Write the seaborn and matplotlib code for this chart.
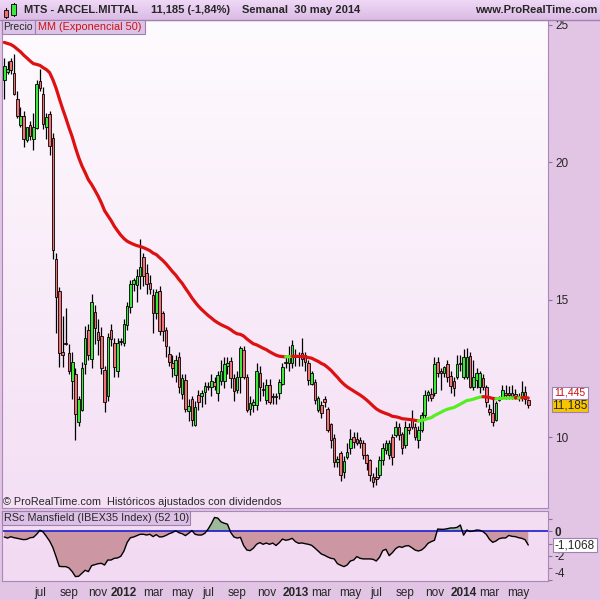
import numpy as np
import pandas as pd
import matplotlib
matplotlib.use("Agg")
import matplotlib.pyplot as plt
import matplotlib.patches as mpatches
from matplotlib.colors import LinearSegmentedColormap
import seaborn as sns

sns.set_style("white")
plt.rcParams['font.family'] = ['Liberation Sans', 'DejaVu Sans']

# weekly OHLC, ARCEL.MITTAL, apr 2011 - may 2014
open_ = [23.0, 23.3, 23.7, 23.25, 22.3, 21.35, 21.7, 20.8, 21.35, 20.85,
         21.25, 22.95, 22.5, 21.3, 21.75, 20.9, 16.5, 15.3, 13.1, 13.42,
         13.05, 12.05, 12.3, 10.55, 11.0, 12.66, 13.9, 12.86, 14.56, 13.81,
         13.68, 12.46, 11.51, 13.9, 13.41, 12.39, 13.45, 13.41, 14.08, 14.75,
         15.57, 15.54, 15.86, 16.54, 15.96, 15.6, 15.17, 14.5, 15.33, 14.5,
         13.9, 13.02, 12.68, 12.26, 12.93, 11.57, 12.08, 10.96, 11.38, 10.44,
         11.53, 11.5, 11.65, 11.85, 11.83, 12.02, 11.59, 12.05, 12.04, 12.6,
         12.77, 12.14, 11.71, 12.2, 13.17, 12.17, 11.04, 11.17, 11.17, 12.34,
         11.76, 11.35, 11.9, 11.5, 11.47, 11.61, 11.95, 12.68, 12.68, 12.68,
         12.99, 12.97, 13.05, 12.99, 12.68, 11.95, 12.02, 10.98, 11.17, 11.38,
         11.04, 10.46, 9.98, 9.1, 9.41, 8.74, 9.29, 9.59, 10.01, 9.92,
         9.88, 9.77, 9.35, 9.16, 8.56, 8.55, 8.62, 9.16, 9.53, 9.35,
         10.01, 10.07, 10.37, 10.13, 9.71, 10.38, 10.62, 10.38, 9.89, 10.25,
         10.8, 11.53, 11.57, 11.59, 12.74, 12.42, 12.32, 12.66, 12.22, 12.04,
         12.2, 12.66, 12.17, 12.2, 12.95, 11.83, 12.08, 11.83, 12.14, 11.83,
         11.01, 10.86, 10.62, 11.35, 11.47, 11.6, 11.62, 11.6, 11.58, 11.5,
         11.47, 11.65, 11.35]
high = [23.8, 23.7, 23.8, 23.95, 22.6, 22.0, 21.85, 21.3, 21.5, 21.8,
        23.0, 23.4, 22.75, 21.8, 21.85, 21.05, 16.7, 15.45, 14.4, 14.7,
        13.4, 13.1, 12.5, 11.5, 12.75, 14.04, 14.1, 15.2, 14.8, 14.3,
        14.0, 12.6, 13.8, 14.1, 13.6, 13.6, 13.6, 14.3, 14.9, 15.7,
        15.8, 16.1, 17.2, 16.7, 16.3, 15.9, 15.4, 15.4, 15.5, 14.6,
        14.0, 13.3, 13.0, 13.0, 13.1, 12.3, 12.3, 11.4, 11.5, 11.3,
        11.7, 11.7, 12.0, 12.0, 12.3, 12.2, 12.4, 12.8, 12.9, 12.9,
        12.9, 12.3, 12.4, 13.3, 13.3, 12.3, 11.5, 11.4, 12.7, 12.6,
        12.0, 12.1, 12.1, 11.6, 11.6, 12.1, 12.7, 12.9, 13.3, 13.55,
        13.2, 13.1, 13.6, 13.1, 12.8, 12.4, 12.1, 11.5, 11.3, 11.5,
        11.1, 10.5, 10.1, 9.3, 9.5, 9.3, 9.8, 10.3, 10.2, 10.2,
        10.0, 9.9, 9.4, 9.2, 8.7, 8.9, 9.3, 9.8, 9.9, 9.9,
        10.1, 10.6, 10.5, 10.2, 10.6, 10.5, 11.0, 10.5, 10.4, 10.9,
        11.7, 11.7, 11.8, 12.9, 12.9, 12.5, 12.6, 12.8, 12.4, 12.2,
        13.0, 13.0, 13.2, 13.25, 13.1, 12.8, 12.5, 12.4, 12.3, 11.9,
        11.2, 11.4, 11.3, 11.5, 11.9, 11.9, 11.85, 11.9, 11.75, 11.6,
        12.05, 11.85, 11.4]
low = [22.3, 23.2, 23.2, 22.45, 21.6, 21.3, 20.55, 20.75, 20.8, 20.45,
       21.2, 22.6, 21.2, 20.85, 20.25, 16.5, 13.8, 12.55, 12.55, 13.35,
       12.3, 11.4, 9.9, 10.4, 10.95, 12.3, 12.8, 12.5, 13.4, 13.0,
       12.3, 10.9, 11.3, 13.3, 12.2, 12.2, 13.35, 13.3, 13.9, 14.5,
       15.3, 14.9, 15.4, 15.5, 15.2, 15.2, 13.8, 14.3, 13.7, 13.5,
       12.9, 12.6, 12.2, 12.0, 11.6, 11.4, 10.9, 10.6, 10.4, 10.4,
       11.0, 11.1, 11.2, 11.7, 11.5, 11.7, 11.3, 11.9, 11.8, 12.3,
       11.8, 11.3, 11.6, 11.6, 12.1, 10.9, 10.8, 10.9, 11.0, 11.3,
       11.5, 11.2, 11.2, 11.2, 11.2, 11.4, 11.9, 12.5, 12.4, 12.5,
       12.6, 12.6, 12.6, 12.4, 11.9, 11.9, 11.2, 10.9, 10.7, 11.1,
       10.2, 9.6, 8.9, 8.9, 8.4, 8.5, 9.2, 9.4, 9.6, 9.7,
       9.6, 9.2, 8.8, 8.4, 8.2, 8.25, 8.5, 9.0, 9.4, 9.2,
       9.0, 10.0, 9.9, 9.4, 9.6, 10.1, 10.3, 9.9, 9.6, 10.2,
       10.7, 11.3, 11.3, 11.5, 12.2, 11.7, 12.2, 12.0, 11.6, 11.5,
       12.1, 12.4, 12.1, 12.1, 11.8, 11.7, 11.8, 11.6, 11.7, 11.1,
       10.8, 10.4, 10.6, 11.3, 11.4, 11.4, 11.4, 11.4, 11.4, 11.3,
       11.3, 11.2, 11.05]
close = [23.5, 23.4, 23.35, 22.5, 21.7, 21.7, 20.85, 21.28, 20.95, 21.3,
         22.85, 22.7, 21.4, 21.65, 20.6, 16.8, 15.1, 13.05, 13.0, 13.38,
         12.4, 12.75, 10.85, 11.4, 12.5, 13.62, 12.99, 14.9, 13.96, 13.53,
         12.53, 11.26, 13.65, 13.56, 12.56, 13.41, 13.47, 14.1, 14.77, 15.57,
         15.72, 15.86, 16.2, 15.86, 15.56, 15.4, 14.5, 15.29, 13.87, 13.87,
         13.31, 12.74, 12.5, 12.8, 11.83, 12.14, 11.02, 11.14, 10.62, 11.11,
         11.26, 11.6, 11.86, 11.82, 12.04, 11.86, 12.27, 12.42, 12.65, 12.68,
         12.14, 11.68, 12.2, 13.23, 12.2, 10.98, 11.25, 11.29, 12.42, 11.83,
         11.72, 11.9, 11.29, 11.45, 11.5, 11.99, 12.56, 12.72, 12.99, 13.35,
         12.93, 12.93, 12.86, 12.74, 12.07, 12.32, 11.35, 11.41, 10.86, 11.26,
         10.25, 9.89, 9.1, 9.19, 8.62, 9.13, 9.47, 9.92, 9.83, 9.8,
         9.78, 9.35, 9.07, 8.62, 8.37, 8.48, 9.16, 9.59, 9.77, 9.77,
         9.28, 10.37, 10.07, 9.59, 10.38, 10.26, 10.38, 10.01, 10.25, 10.8,
         11.53, 11.65, 11.44, 12.66, 12.32, 12.32, 12.54, 12.17, 11.87, 11.77,
         12.66, 12.7, 12.9, 12.9, 11.83, 12.17, 12.32, 12.34, 11.83, 11.29,
         10.93, 10.56, 11.23, 11.41, 11.71, 11.55, 11.55, 11.5, 11.48, 11.42,
         11.65, 11.4, 11.185]
ma_seed = 24.4  # EMA value before the first bar

# RSc Mansfield vs IBEX35
rsc = [-0.45, -0.54, -0.43, -0.51, -0.56, -0.62, -0.67, -0.64, -0.51, -0.48,
       -0.23, 0.10, -0.04, -0.40, -0.78, -1.30, -2.06, -2.86, -2.88, -2.88,
       -2.99, -3.29, -3.70, -3.67, -3.43, -3.18, -3.29, -2.80, -2.72, -2.64,
       -2.61, -2.75, -2.34, -2.34, -2.20, -2.17, -2.04, -1.60, -0.89, -0.51,
       -0.45, -0.34, -0.23, -0.23, -0.29, -0.23, -0.42, -0.26, -0.45, -0.43,
       -0.32, -0.18, -0.08, 0.06, -0.10, -0.18, -0.34, -0.15, 0.08, -0.23,
       -0.29, -0.29, -0.15, 0.19, 0.63, 1.15, 1.10, 0.79, 0.68, 0.60,
       -0.08, -0.45, -0.54, -0.48, -1.15, -1.52, -1.57, -1.37, -1.05, -0.91,
       -1.05, -0.95, -1.05, -0.95, -1.15, -0.92, -0.62, -0.72, -0.67, -0.56,
       -0.83, -0.97, -0.94, -1.00, -1.05, -1.13, -1.35, -1.60, -1.84, -1.95,
       -2.09, -2.20, -2.25, -2.64, -2.77, -2.88, -2.75, -2.42, -2.34, -2.06,
       -2.20, -2.25, -2.25, -2.25, -2.28, -2.42, -2.12, -1.57, -1.46, -1.98,
       -1.73, -1.41, -1.24, -1.30, -1.19, -1.16, -1.33, -1.52, -1.60, -1.52,
       -1.30, -0.97, -0.83, -0.72, 0.20, 0.18, 0.18, 0.23, 0.29, 0.29,
       0.34, 0.53, -0.30, 0.12, 0.00, 0.04, 0.12, 0.10, -0.01, -0.23,
       -0.64, -0.89, -0.78, -0.59, -0.53, -0.53, -0.32, -0.40, -0.42, -0.51,
       -0.56, -0.67, -1.11]

price_ticks = [10, 15, 20, 25]
tick_months = ["2011-07", "2011-09", "2011-11", "2012-01", "2012-03", "2012-05",
               "2012-07", "2012-09", "2012-11", "2013-01", "2013-03", "2013-05",
               "2013-07", "2013-09", "2013-11", "2014-01", "2014-03", "2014-05"]
tick_labels = ["jul", "sep", "nov", "2012", "mar", "may", "jul", "sep", "nov",
               "2013", "mar", "may", "jul", "sep", "nov", "2014", "mar", "may"]

o = np.array(open_)
h = np.array(high)
l = np.array(low)
c = np.array(close)
rs = np.array(rsc)
n = len(c)
idx = np.arange(n)
mondays = pd.date_range("2011-04-18", periods=n, freq="W-MON")
ema = pd.Series([ma_seed] + close).ewm(span=50, adjust=False).mean().to_numpy()[1:]

W, H = 600, 600
fig = plt.figure(figsize=(6, 6), dpi=100)
fig.patch.set_facecolor("#e2c4e4")


def px_box(x0, y0, x1, y1):
    return [x0 / W, 1 - y1 / H, (x1 - x0) / W, (y1 - y0) / H]


def vgrad(ax, top, bot, ext):
    cm = LinearSegmentedColormap.from_list("g", [top, bot])
    ax.imshow(np.linspace(0, 1, 256).reshape(-1, 1), cmap=cm, aspect="auto",
              extent=ext, zorder=0, origin="upper")


def box(x0, y0, x1, y1, fc, ec="#a080b0", lw=0.8):
    fig.patches.append(mpatches.Rectangle((x0 / W, 1 - y1 / H), (x1 - x0) / W, (y1 - y0) / H,
                                          transform=fig.transFigure, facecolor=fc,
                                          edgecolor=ec, lw=lw, zorder=5))


def ftext(x, y, s, **kw):
    fig.text(x / W, 1 - y / H, s, zorder=6, va="center", **kw)


xlim = (-0.71, 168.1)
border = "#a888b8"

# title bar
axt = fig.add_axes(px_box(0, 0, 600, 19))
vgrad(axt, "#efd8f6", "#dcbce6", [0, 1, 0, 1])
axt.set_xlim(0, 1)
axt.set_ylim(0, 1)
axt.axis("off")
fig.lines.append(plt.Line2D([0, 1], [1 - 19.5 / H] * 2, transform=fig.transFigure,
                            color="#a080b0", lw=1))
# candle icon
fig.lines.append(plt.Line2D([5.7 / W] * 2, [1 - 18 / H, 1 - 8 / H], transform=fig.transFigure, color="black", lw=0.8, zorder=5))
fig.lines.append(plt.Line2D([13.5 / W] * 2, [1 - 16 / H, 1 - 2.5 / H], transform=fig.transFigure, color="black", lw=0.8, zorder=5))
box(3.5, 10.5, 8, 16.5, "#f07070", ec="black", lw=0.6)
box(11.3, 4, 15.8, 15, "#3de83d", ec="black", lw=0.6)
ftext(24, 10, "MTS - ARCEL.MITTAL", fontsize=8, fontweight="bold")
ftext(151, 10, "11,185 (-1,84%)", fontsize=8, fontweight="bold")
ftext(242, 10, "Semanal  30 may 2014", fontsize=8, fontweight="bold")
ftext(597, 10, "www.ProRealTime.com", fontsize=8, fontweight="bold", ha="right")

# main price panel
ax = fig.add_axes(px_box(2, 20, 548, 508))
ylim = (7.42, 25.18)
vgrad(ax, "#fefbfe", "#f4dff4", [xlim[0], xlim[1], ylim[0], ylim[1]])

up = c >= o
colors = np.where(up, "#3de83d", "#f07272")
ax.vlines(idx, l, h, color="black", lw=0.9, zorder=2)
ax.bar(idx, np.maximum(np.abs(c - o), 0.03), bottom=np.minimum(o, c), width=0.8,
       color=colors, edgecolor="black", linewidth=0.6, zorder=3)

# EMA 50, green while rising, red while falling
rising = np.diff(ema) > 0
start = 0
for k in range(1, len(rising) + 1):
    if k == len(rising) or rising[k] != rising[start]:
        col = "#55ee22" if rising[start] else "#dd1111"
        sns.lineplot(x=idx[start:k + 1], y=ema[start:k + 1], color=col, lw=2.3,
                     ax=ax, zorder=4)
        start = k

ax.set_xlim(*xlim)
ax.set_ylim(*ylim)
ax.set_xticks([])
ax.set_yticks(price_ticks)
ax.yaxis.tick_right()
ax.tick_params(axis="y", direction="out", length=3, color="#9070a0",
               labelsize=8.5, pad=2)
ax.set_xlabel("")
ax.set_ylabel("")
for s in ax.spines.values():
    s.set_color(border)
    s.set_linewidth(0.8)

box(2, 20, 35, 34, "#dcc3e8")
ftext(3.5, 27, "Precio", fontsize=7.5)
box(35, 20, 145, 34, "#dcc3e8")
ftext(38.5, 27, "MM (Exponencial 50)", fontsize=7.8, color="#cc1111")
ftext(3, 502, "\u00a9 ProRealTime.com  Históricos ajustados con dividendos", fontsize=7.8)

# last values on the price scale
box(552, 387, 588, 400, "white")
ftext(570, 392.5, "11,445", fontsize=7.5, color="#cc1111", ha="center")
box(552, 398.5, 588, 411.5, "#f7c600")
ftext(570, 405, "11,185", fontsize=8.5, ha="center")

# RSc Mansfield panel
ax2 = fig.add_axes(px_box(2, 511, 548, 581))
ylim2 = (-4.06, 1.68)
vgrad(ax2, "#f4def4", "#f2daf2", [xlim[0], xlim[1], ylim2[0], ylim2[1]])
ax2.fill_between(idx, rs, 0, where=rs < 0, interpolate=True, color="#cc97a3", zorder=1, lw=0)
ax2.fill_between(idx, rs, 0, where=rs >= 0, interpolate=True, color="#9cba9a", zorder=1, lw=0)
ax2.axhline(0, color="#1a1acc", lw=1.2, zorder=2)
sns.lineplot(x=idx, y=rs, color="black", lw=1.0, ax=ax2, zorder=3)
ax2.set_xlim(*xlim)
ax2.set_ylim(*ylim2)
ax2.set_xlabel("")
ax2.set_ylabel("")
ax2.yaxis.tick_right()
ax2.set_yticks([-4, -3, -2, -1, 0, 1])
ax2.set_yticklabels(["-4", "", "-2", "", "0", ""])
ax2.get_yticklabels()[4].set_fontweight("bold")
ax2.get_yticklabels()[0].set_verticalalignment("bottom")
ax2.tick_params(axis="y", direction="out", length=3, color="#9070a0",
                labelsize=8.5, pad=2)

pos = [int(np.argmax(mondays.strftime("%Y-%m") == m)) for m in tick_months]
ax2.set_xticks(pos)
ax2.set_xticklabels(tick_labels)
for t in ax2.get_xticklabels():
    if t.get_text().isdigit():
        t.set_fontweight("bold")
ax2.tick_params(axis="x", direction="out", length=3, color="#9070a0",
                labelsize=8.5, pad=1.5)
for s in ax2.spines.values():
    s.set_color(border)
    s.set_linewidth(0.8)

box(2, 511, 190, 525, "#dcbfe4")
ftext(4, 518, "RSc Mansfield (IBEX35 Index) (52 10)", fontsize=7.8)
box(553, 538, 597, 552, "white")
ftext(575, 545, "-1,1068", fontsize=8.5, ha="center")

fig.savefig("out.png", dpi=100, facecolor=fig.get_facecolor())
